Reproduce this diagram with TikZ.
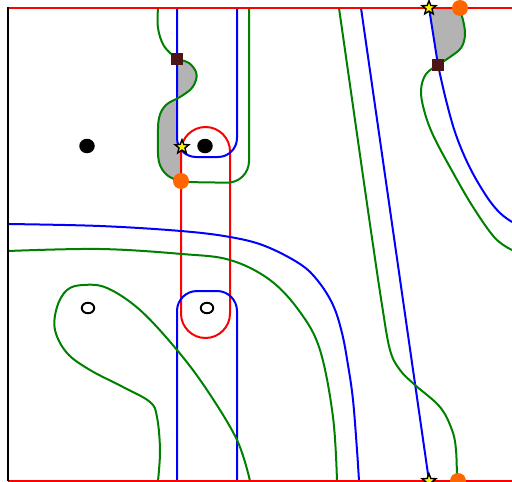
\documentclass[tikz,border=0pt]{standalone}
\usetikzlibrary{shapes.geometric}
\definecolor{cgreen}{RGB}{0,128,0}
\definecolor{cblue}{RGB}{0,0,255}
\definecolor{cred}{RGB}{255,0,0}
\definecolor{corange}{RGB}{255,102,0}
\definecolor{cbrown}{RGB}{77,22,22}
\definecolor{cshade}{RGB}{179,179,179}
\begin{document}
\begin{tikzpicture}[x=1pt,y=-1pt,
  wire/.style={line width=2pt},
  gw/.style={wire,draw=cgreen},
  bw/.style={wire,draw=cblue},
  rw/.style={wire,draw=cred},
  sm/.style={smooth,tension=0.6},
  puncture/.style={ellipse,fill=black,inner sep=0pt,minimum width=15.5pt,minimum height=14.5pt},
  hole/.style={ellipse,draw=black,line width=1.9pt,inner sep=0pt,minimum width=12.5pt,minimum height=10.5pt},
  endpt/.style={circle,fill=corange,inner sep=0pt,minimum size=16pt},
  crossing/.style={rectangle,fill=cbrown,inner sep=0pt,minimum size=12.5pt},
  basept/.style={star,star points=5,star point ratio=2.3,fill=yellow,draw=black,line width=1.4pt,inner sep=0pt,minimum size=14.5pt}]
\useasboundingbox (0,0) rectangle (512,482);

% shaded bigons
\fill[cshade] plot[sm] coordinates {(177,59) (189,63) (196,72) (196,80) (191,89) (180,97) (166,105) (159,118) (158,140) (159,162) (167,175) (181,182)}
  -- (181,147) -- (177,140) -- cycle;
\fill[cshade] plot[sm] coordinates {(459,8) (463,20) (465,35) (461,48) (450,57) (438,65)} -- (429,8) -- cycle;

% red loop
\draw[rw,rounded corners=24.5pt] (181,230) -- (181,127) -- (230,127) -- (230,338) -- (181,338) -- cycle;

% blue arcs
\draw[bw,rounded corners=19pt] (177,8) -- (177,157) -- (237,157) -- (237,8);
\draw[bw,rounded corners=20pt] (177,481) -- (177,291) -- (237,291) -- (237,481);
\draw[bw] plot[sm] coordinates {(8,224) (100,226) (181,231) (230,237) (265,246) (300,264) (318,281) (333,305) (342,333) (348,365) (353,400) (357,450) (359,481)};
\draw[bw] (361,8) -- (429,481);
\draw[bw] (429,8) -- (438,65) plot[sm] coordinates {(438,65) (446,100) (456,135) (470,168) (487,197) (500,213) (512,222)};

% green arcs
\draw[gw] plot[sm] coordinates {(158,8) (158,28) (164,46) (177,59)};
\draw[gw] plot[sm] coordinates {(177,59) (189,63) (196,72) (196,80) (191,89) (180,97) (166,105) (159,118) (158,140) (159,162) (167,175) (181,182)};
\draw[gw,rounded corners=22pt] (181,182) -- (249,183) -- (249,8);
\draw[gw] plot[sm] coordinates {(8,251) (100,249) (182,254) (230,260) (270,280) (300,312) (320,350) (333,417) (337,481)};
\draw[gw] plot[sm] coordinates {(158,481) (160,450) (157,417) (150,402) (123,387) (90,370) (67,353) (55,330) (57,307) (67,290) (83,285) (107,288) (140,310) (177,350) (207,390) (237,440) (250,481)};
\draw[gw] plot[sm] coordinates {(339,8) (350,85) (361,162) (372,238) (382,305) (390,350) (400,370) (415,385) (440,407) (452,430) (456,450) (457,481)};
\draw[gw] plot[sm] coordinates {(459,8) (463,20) (465,35) (461,48) (450,57) (438,65)};
\draw[gw] plot[sm] coordinates {(438,65) (426,74) (421,90) (424,110) (433,135) (451,169) (473,207) (495,238) (512,250)};

% boundary
\draw[line width=2pt,cred] (8,8) -- (512,8);
\draw[line width=2pt,cred] (8,481) -- (512,481);
\draw[line width=2pt,black] (8,7) -- (8,481);

% punctures
\node[puncture] (p1) at (87,146) {};
\node[puncture] (p2) at (205,146) {};
\node[hole] (h1) at (88,308) {};
\node[hole] (h2) at (207,308) {};

% markers
\node[crossing] (c1) at (177,59) {};
\node[crossing] (c2) at (438,65) {};
\node[endpt] (e1) at (181,181) {};
\node[endpt] (e2) at (460,8) {};
\node[endpt] (e3) at (458,481) {};
\node[basept] (s1) at (182,147) {};
\node[basept] (s2) at (429,8) {};
\node[basept] (s3) at (429,481) {};
\end{tikzpicture}
\end{document}
